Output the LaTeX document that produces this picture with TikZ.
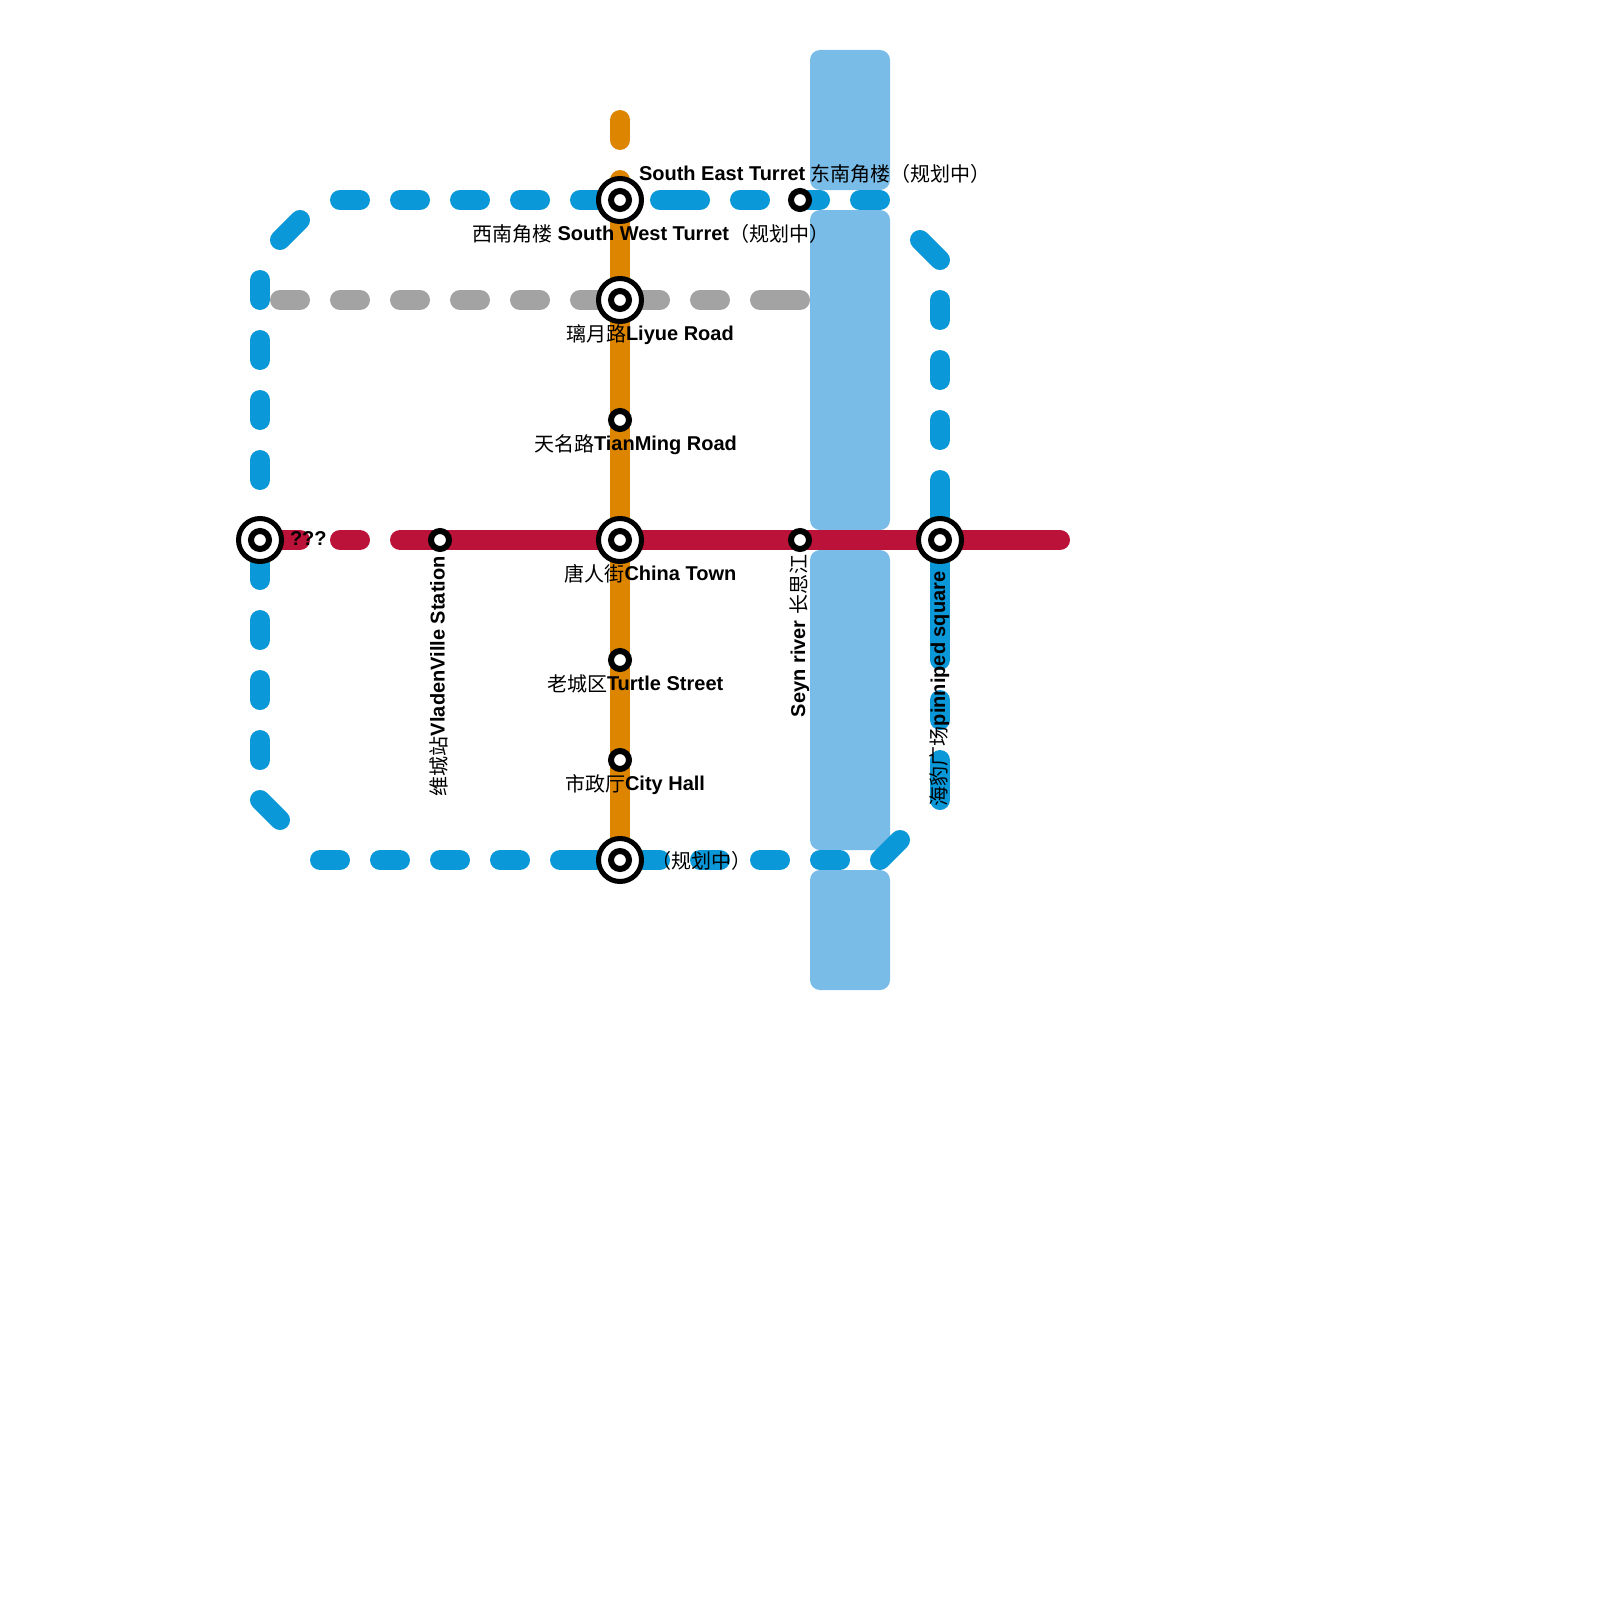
\documentclass[tikz,border=0pt]{standalone}
\usepackage{fontspec}
\setmainfont{Liberation Sans}
\newfontfamily\cjk{Noto Sans CJK SC}
\pgfdeclarelayer{waterlayer}
\pgfdeclarelayer{linelayer}
\pgfdeclarelayer{textlayer}
\pgfsetlayers{waterlayer,linelayer,main,textlayer}
\definecolor{waterc}{HTML}{7ABCE8}
\definecolor{bluec}{HTML}{0A98D8}
\definecolor{orangec}{HTML}{DE8500}
\definecolor{redc}{HTML}{BA1238}
\definecolor{grayc}{HTML}{A3A3A3}
\tikzset{
  x=1pt,y=-1pt,
  water/.style={draw=none,fill=waterc,rounded corners=10pt},
  route/.style={line width=20pt,line cap=round},
  broken/.style={route,dash pattern=on 20pt off 40pt},
  bluel/.style={draw=bluec},
  orangel/.style={draw=orangec},
  redl/.style={draw=redc},
  grayl/.style={draw=grayc},
  bigstation/.style={circle,draw=black,fill=white,line width=5pt,minimum size=43pt,inner sep=0pt,outer sep=0pt,
    path picture={\draw[black,line width=6pt] (path picture bounding box.center) circle (9pt);}},
  smallstation/.style={circle,draw=black,fill=white,line width=6pt,minimum size=18pt,inner sep=0pt,outer sep=0pt},
  lab/.style={anchor=base west,inner sep=0pt,outer sep=0pt,font=\fontsize{20}{24}\selectfont},
  vlab/.style={lab,rotate=90},
}
\newcommand{\bld}[1]{\textbf{#1}}
\newcommand{\cj}[1]{\raisebox{-1.5pt}{\cjk #1}}
\begin{document}
\begin{tikzpicture}
\useasboundingbox (0,0) rectangle (1600,1600);
% stations
\node[bigstation] (sw) at (620,200) {};
\node[bigstation] (liyue) at (620,300) {};
\node[smallstation] (tianming) at (620,420) {};
\node[bigstation] (china) at (620,540) {};
\node[smallstation] (turtle) at (620,660) {};
\node[smallstation] (cityhall) at (620,760) {};
\node[bigstation] (south) at (620,860) {};
\node[bigstation] (west) at (260,540) {};
\node[smallstation] (vladen) at (440,540) {};
\node[smallstation] (seyn) at (800,540) {};
\node[bigstation] (pinniped) at (940,540) {};
\node[smallstation] (se) at (800,200) {};
% free line ends
\coordinate (ot1) at (620,120); \coordinate (ot2) at (620,140); \coordinate (ot3) at (620,180);
\coordinate (r1) at (300,540); \coordinate (r2) at (340,540); \coordinate (r3) at (360,540);
\coordinate (r4) at (400,540); \coordinate (r5) at (1060,540);
\coordinate (g1) at (280,300); \coordinate (g2) at (540,300); \coordinate (g3) at (580,300);
\coordinate (g4) at (660,300); \coordinate (g5) at (700,300); \coordinate (g6) at (720,300);
\coordinate (g7) at (760,300); \coordinate (g8) at (800,300);
\coordinate (bt1) at (340,200); \coordinate (bt2) at (600,200); \coordinate (bt3) at (660,200);
\coordinate (bt4) at (700,200); \coordinate (bt5) at (740,200); \coordinate (bt6) at (880,200);
\coordinate (d1a) at (280,240); \coordinate (d1b) at (300,220);
\coordinate (bl1) at (260,280); \coordinate (bl2) at (260,480); \coordinate (bl3) at (260,580);
\coordinate (bl4) at (260,620); \coordinate (bl5) at (260,760);
\coordinate (d2a) at (260,800); \coordinate (d2b) at (280,820);
\coordinate (bb1) at (320,860); \coordinate (bb2) at (520,860); \coordinate (bb3) at (560,860);
\coordinate (bb4) at (660,860); \coordinate (bb5) at (700,860); \coordinate (bb6) at (840,860);
\coordinate (d3a) at (880,860); \coordinate (d3b) at (900,840);
\coordinate (d4a) at (920,240); \coordinate (d4b) at (940,260);
\coordinate (br1) at (940,300); \coordinate (br2) at (940,440); \coordinate (br3) at (940,480);
\coordinate (br4) at (940,660); \coordinate (br5) at (940,700); \coordinate (br6) at (940,720);
\coordinate (br7) at (940,760); \coordinate (br8) at (940,800);
\begin{pgfonlayer}{waterlayer}
  \fill[water] (810,50) rectangle (890,190);
  \fill[water] (810,210) rectangle (890,530);
  \fill[water] (810,550) rectangle (890,850);
  \fill[water] (810,870) rectangle (890,990);
\end{pgfonlayer}
\begin{pgfonlayer}{linelayer}
  % orange
  \draw[route,orangel] (ot1) -- (ot2);
  \draw[route,orangel] (ot3) -- (south.center);
  % gray
  \draw[broken,grayl] (g1) -- (g2);
  \draw[route,grayl] (g3) -- (g4);
  \draw[route,grayl] (g5) -- (g6);
  \draw[route,grayl] (g7) -- (g8);
  % red
  \draw[route,redl] (west.center) -- (r1);
  \draw[route,redl] (r2) -- (r3);
  \draw[route,redl] (r4) -- (r5);
  % blue
  \draw[broken,bluel] (bt1) -- (bt2);
  \draw[route,bluel] (bt3) -- (bt4);
  \draw[broken,bluel] (bt5) -- (bt6);
  \draw[route,bluel] (d1a) -- (d1b);
  \draw[broken,bluel] (bl1) -- (bl2);
  \draw[route,bluel] (west.center) -- (bl3);
  \draw[broken,bluel] (bl4) -- (bl5);
  \draw[route,bluel] (d2a) -- (d2b);
  \draw[broken,bluel] (bb1) -- (bb2);
  \draw[route,bluel] (bb3) -- (bb4);
  \draw[broken,bluel] (bb5) -- (bb6);
  \draw[route,bluel] (d3a) -- (d3b);
  \draw[route,bluel] (d4a) -- (d4b);
  \draw[broken,bluel] (br1) -- (br2);
  \draw[route,bluel] (br3) -- (br4);
  \draw[route,bluel] (br5) -- (br6);
  \draw[route,bluel] (br7) -- (br8);
\end{pgfonlayer}
\begin{pgfonlayer}{textlayer}
  \node[lab] (tse) at (639,180) {\bld{South East Turret} \cj{东南角楼（规划中）}};
  \node[lab] (tsw) at (472,240) {\cj{西南角楼} \bld{South West Turret}\cj{（规划中）}};
  \node[lab] (tliyue) at (566,340) {\cj{璃月路}\bld{Liyue Road}};
  \node[lab] (ttian) at (534,450) {\cj{天名路}\bld{TianMing Road}};
  \node[lab] (tchina) at (564.5,580) {\cj{唐人街}\bld{China Town}};
  \node[lab] (tturtle) at (547,690) {\cj{老城区}\bld{Turtle Street}};
  \node[lab] (tcity) at (565,790) {\cj{市政厅}\bld{City Hall}};
  \node[lab] (tplan) at (651,867) {\cj{（规划中）}};
  \node[lab] (tq) at (290,545) {\bld{???}};
  \node[vlab] (tvladen) at (444.5,796) {\cj{维城站}\bld{VladenVille Station}};
  \node[vlab] (tseyn) at (805,717) {\bld{Seyn river} \cj{长思江}};
  \node[vlab] (tpin) at (945,806) {\cj{海豹广场}\bld{pinniped square}};
\end{pgfonlayer}
\end{tikzpicture}
\end{document}
